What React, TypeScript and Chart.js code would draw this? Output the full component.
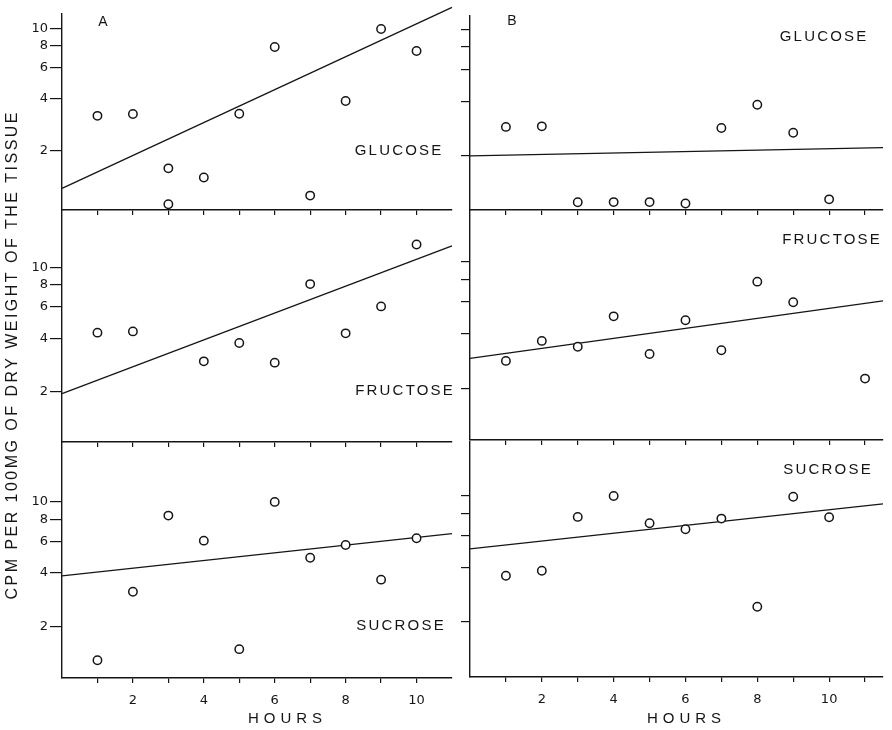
import React, { useEffect, useRef } from 'react';
import { Chart, registerables } from 'chart.js';

Chart.register(...registerables);

const W = 892;
const H = 730;

// ---------- data ----------
const glucoseAHours = [1, 2, 3, 3, 4, 5, 6, 7, 8, 9, 10];
const glucoseAValues = [3.18, 3.26, 1.59, 0.99, 1.41, 3.27, 7.89, 1.11, 3.87, 10, 7.48];
const glucoseAFit = [1.22, 13.3];

const fructoseAHours = [1, 2, 4, 5, 6, 7, 8, 9, 10];
const fructoseAValues = [4.3, 4.37, 2.97, 3.76, 2.92, 8.04, 4.26, 6.03, 13.4];
const fructoseAFit = [1.96, 13.15];

const sucroseAHours = [1, 2, 3, 4, 5, 6, 7, 8, 9, 10];
const sucroseAValues = [1.29, 3.13, 8.38, 6.06, 1.49, 10, 4.86, 5.73, 3.66, 6.25];
const sucroseAFit = [3.84, 6.64];

const glucoseBHours = [1, 2, 3, 4, 5, 6, 7, 8, 9, 10];
const glucoseBValues = [2.89, 2.91, 1.107, 1.11, 1.11, 1.09, 2.85, 3.83, 2.68, 1.15];
const glucoseBFit = [2.0, 2.22];

const fructoseBHours = [1, 2, 3, 4, 5, 6, 7, 8, 9, 11];
const fructoseBValues = [2.83, 3.65, 3.39, 4.99, 3.09, 4.75, 3.24, 7.76, 5.97, 2.26];
const fructoseBFit = [2.92, 6.07];

const sucroseBHours = [1, 2, 3, 4, 5, 6, 7, 8, 9, 10];
const sucroseBValues = [3.61, 3.85, 7.65, 10, 7.06, 6.54, 7.49, 2.43, 9.9, 7.62];
const sucroseBFit = [5.09, 9.03];

const fitHoursA = [0, 11];
const fitHoursB = [0, 11.5];

const yTickValues = [2, 4, 6, 8, 10];
const xTickValuesA = [1, 2, 3, 4, 5, 6, 7, 8, 9, 10];
const xTickValuesB = [1, 2, 3, 4, 5, 6, 7, 8, 9, 10, 11];
const xLabelValues = [2, 4, 6, 8, 10];

const yMinA = [0.918, 1.05, 1.026];
const yMaxA = [12.19, 20.9, 21.7];
const yMinB = [1.004, 1.035, 0.992];
const yMaxB = [11.84, 19.3, 19.9];

const xMaxA = 11;
const xMaxB = 11.5;

const yTitle = 'CPM PER 100MG OF DRY WEIGHT OF THE TISSUE';

// ---------- layout ----------
const INK = '#151515';
const YW = 45;
const XH = 45;
const TAG_FONT = '15px "Liberation Sans", Arial, sans-serif';
const TICK_FONT = { family: '"DejaVu Sans", sans-serif', size: 13 };

type TextItem = { text: string; x: number; y: number; font: string; spacing?: number; rotate?: boolean; fitLength?: number };

const textPlugin = {
  id: 'panelText',
  afterDraw(chart: any, _args: any, opts: any) {
    const ctx = chart.ctx as CanvasRenderingContext2D;
    const items: TextItem[] = (opts && opts.items) || [];
    items.forEach((it) => {
      ctx.save();
      ctx.fillStyle = INK;
      ctx.font = it.font;
      ctx.textBaseline = 'middle';
      ctx.translate(it.x, it.y);
      if (it.rotate) ctx.rotate(-Math.PI / 2);
      if (it.fitLength) {
        (ctx as any).letterSpacing = '0px';
        const w0 = ctx.measureText(it.text).width;
        const sp = (it.fitLength - w0) / (it.text.length - 1);
        (ctx as any).letterSpacing = sp + 'px';
        ctx.textAlign = 'left';
        ctx.fillText(it.text, -it.fitLength / 2, 0);
      } else {
        (ctx as any).letterSpacing = (it.spacing || 0) + 'px';
        ctx.textAlign = 'left';
        const w = ctx.measureText(it.text).width - (it.spacing || 0);
        ctx.fillText(it.text, -w / 2, 0);
      }
      ctx.restore();
    });
  },
};

type PanelCfg = {
  hours: number[];
  values: number[];
  fit: number[];
  fitHours: number[];
  left: number;
  right: number;
  top: number;
  bottom: number;
  yMin: number;
  yMax: number;
  xMax: number;
  xTicks: number[];
  yLabels: boolean;
  xLabels: boolean;
  yTickLen: number;
  texts: TextItem[];
};

const tag = (text: string, x: number, y: number): TextItem => ({ text, x, y, font: TAG_FONT, spacing: 2.2 });
const LETTER_FONT = '14px "Liberation Sans", Arial, sans-serif';

const panels: PanelCfg[] = [
  {
    hours: glucoseAHours, values: glucoseAValues, fit: glucoseAFit, fitHours: fitHoursA,
    left: 62, right: 452, top: 14, bottom: 210, yMin: yMinA[0], yMax: yMaxA[0], xMax: xMaxA,
    xTicks: xTickValuesA, yLabels: true, xLabels: false, yTickLen: 12,
    texts: [
      { text: 'A', x: 103, y: 22, font: LETTER_FONT },
      tag('GLUCOSE', 398, 151),
    ],
  },
  {
    hours: fructoseAHours, values: fructoseAValues, fit: fructoseAFit, fitHours: fitHoursA,
    left: 62, right: 452, top: 210, bottom: 442, yMin: yMinA[1], yMax: yMaxA[1], xMax: xMaxA,
    xTicks: xTickValuesA, yLabels: true, xLabels: false, yTickLen: 12,
    texts: [
      tag('FRUCTOSE', 404, 391),
      { text: yTitle, x: 13, y: 356, font: '16px "Liberation Sans", Arial, sans-serif', rotate: true, fitLength: 487 },
    ],
  },
  {
    hours: sucroseAHours, values: sucroseAValues, fit: sucroseAFit, fitHours: fitHoursA,
    left: 62, right: 452, top: 442, bottom: 678, yMin: yMinA[2], yMax: yMaxA[2], xMax: xMaxA,
    xTicks: xTickValuesA, yLabels: true, xLabels: true, yTickLen: 12,
    texts: [
      tag('SUCROSE', 400, 626),
      { text: 'HOURS', x: 285, y: 719, font: TAG_FONT, spacing: 5 },
    ],
  },
  {
    hours: glucoseBHours, values: glucoseBValues, fit: glucoseBFit, fitHours: fitHoursB,
    left: 470, right: 883, top: 16, bottom: 210, yMin: yMinB[0], yMax: yMaxB[0], xMax: xMaxB,
    xTicks: xTickValuesB, yLabels: false, xLabels: false, yTickLen: 9,
    texts: [
      { text: 'B', x: 512, y: 21, font: LETTER_FONT },
      tag('GLUCOSE', 823, 37),
    ],
  },
  {
    hours: fructoseBHours, values: fructoseBValues, fit: fructoseBFit, fitHours: fitHoursB,
    left: 470, right: 883, top: 210, bottom: 440, yMin: yMinB[1], yMax: yMaxB[1], xMax: xMaxB,
    xTicks: xTickValuesB, yLabels: false, xLabels: false, yTickLen: 9,
    texts: [tag('FRUCTOSE', 831, 240)],
  },
  {
    hours: sucroseBHours, values: sucroseBValues, fit: sucroseBFit, fitHours: fitHoursB,
    left: 470, right: 883, top: 442, bottom: 677, yMin: yMinB[2], yMax: yMaxB[2], xMax: xMaxB,
    xTicks: xTickValuesB, yLabels: false, xLabels: true, yTickLen: 9,
    texts: [
      tag('SUCROSE', 827, 470),
      { text: 'HOURS', x: 684, y: 719, font: TAG_FONT, spacing: 5 },
    ],
  },
];

function Panel({ cfg }: { cfg: PanelCfg }) {
  const ref = useRef<HTMLCanvasElement | null>(null);
  useEffect(() => {
    if (!ref.current) return;
    const points = cfg.hours.map((h, i) => ({ x: h, y: cfg.values[i] }));
    const fitPts = cfg.fitHours.map((h, i) => ({ x: h, y: cfg.fit[i] }));
    const chart = new Chart(ref.current, {
      type: 'scatter',
      data: {
        datasets: [
          {
            data: fitPts,
            showLine: true,
            borderColor: INK,
            borderWidth: 1.3,
            pointRadius: 0,
            clip: false as any,
            order: 2,
          },
          {
            data: points,
            pointStyle: 'circle',
            pointRadius: 4.2,
            borderWidth: 1.5,
            borderColor: INK,
            backgroundColor: '#ffffff',
            clip: false as any,
            order: 1,
          },
        ],
      },
      options: {
        responsive: false,
        animation: false,
        events: [],
        layout: {
          padding: {
            left: cfg.left - YW,
            right: W - cfg.right,
            top: cfg.top,
            bottom: H - cfg.bottom - XH,
          },
        },
        plugins: {
          legend: { display: false },
          tooltip: { enabled: false },
          panelText: { items: cfg.texts },
        } as any,
        scales: {
          x: {
            type: 'linear',
            min: 0,
            max: cfg.xMax,
            afterBuildTicks: (s: any) => {
              s.ticks = cfg.xTicks.map((v) => ({ value: v }));
            },
            afterFit: (s: any) => {
              s.height = XH;
            },
            ticks: {
              display: cfg.xLabels,
              autoSkip: false,
              maxRotation: 0,
              padding: 10,
              color: INK,
              font: TICK_FONT,
              callback: (v: any) => (xLabelValues.includes(Number(v)) ? String(v) : ''),
            },
            grid: { drawOnChartArea: false, drawTicks: true, tickLength: 5, color: INK, lineWidth: 1.2 },
            border: { display: true, color: INK, width: 1.4 },
          },
          y: {
            type: 'logarithmic',
            min: cfg.yMin,
            max: cfg.yMax,
            afterBuildTicks: (s: any) => {
              s.ticks = yTickValues.map((v) => ({ value: v }));
            },
            afterFit: (s: any) => {
              s.width = YW;
            },
            ticks: {
              display: cfg.yLabels,
              autoSkip: false,
              padding: 2,
              color: INK,
              font: TICK_FONT,
              callback: (v: any) => String(v),
            },
            grid: { drawOnChartArea: false, drawTicks: true, tickLength: cfg.yTickLen, color: INK, lineWidth: 1.2 },
            border: { display: true, color: INK, width: 1.4 },
          },
        },
      },
      plugins: [textPlugin],
    } as any);
    return () => chart.destroy();
  }, [cfg]);
  return (
    <canvas
      ref={ref}
      width={W}
      height={H}
      style={{ position: 'absolute', left: 0, top: 0, width: W, height: H }}
    />
  );
}

export default function App() {
  return (
    <div style={{ position: 'absolute', left: 0, top: 0, width: W, height: H, background: '#ffffff' }}>
      {panels.map((p, i) => (
        <Panel key={i} cfg={p} />
      ))}
    </div>
  );
}
